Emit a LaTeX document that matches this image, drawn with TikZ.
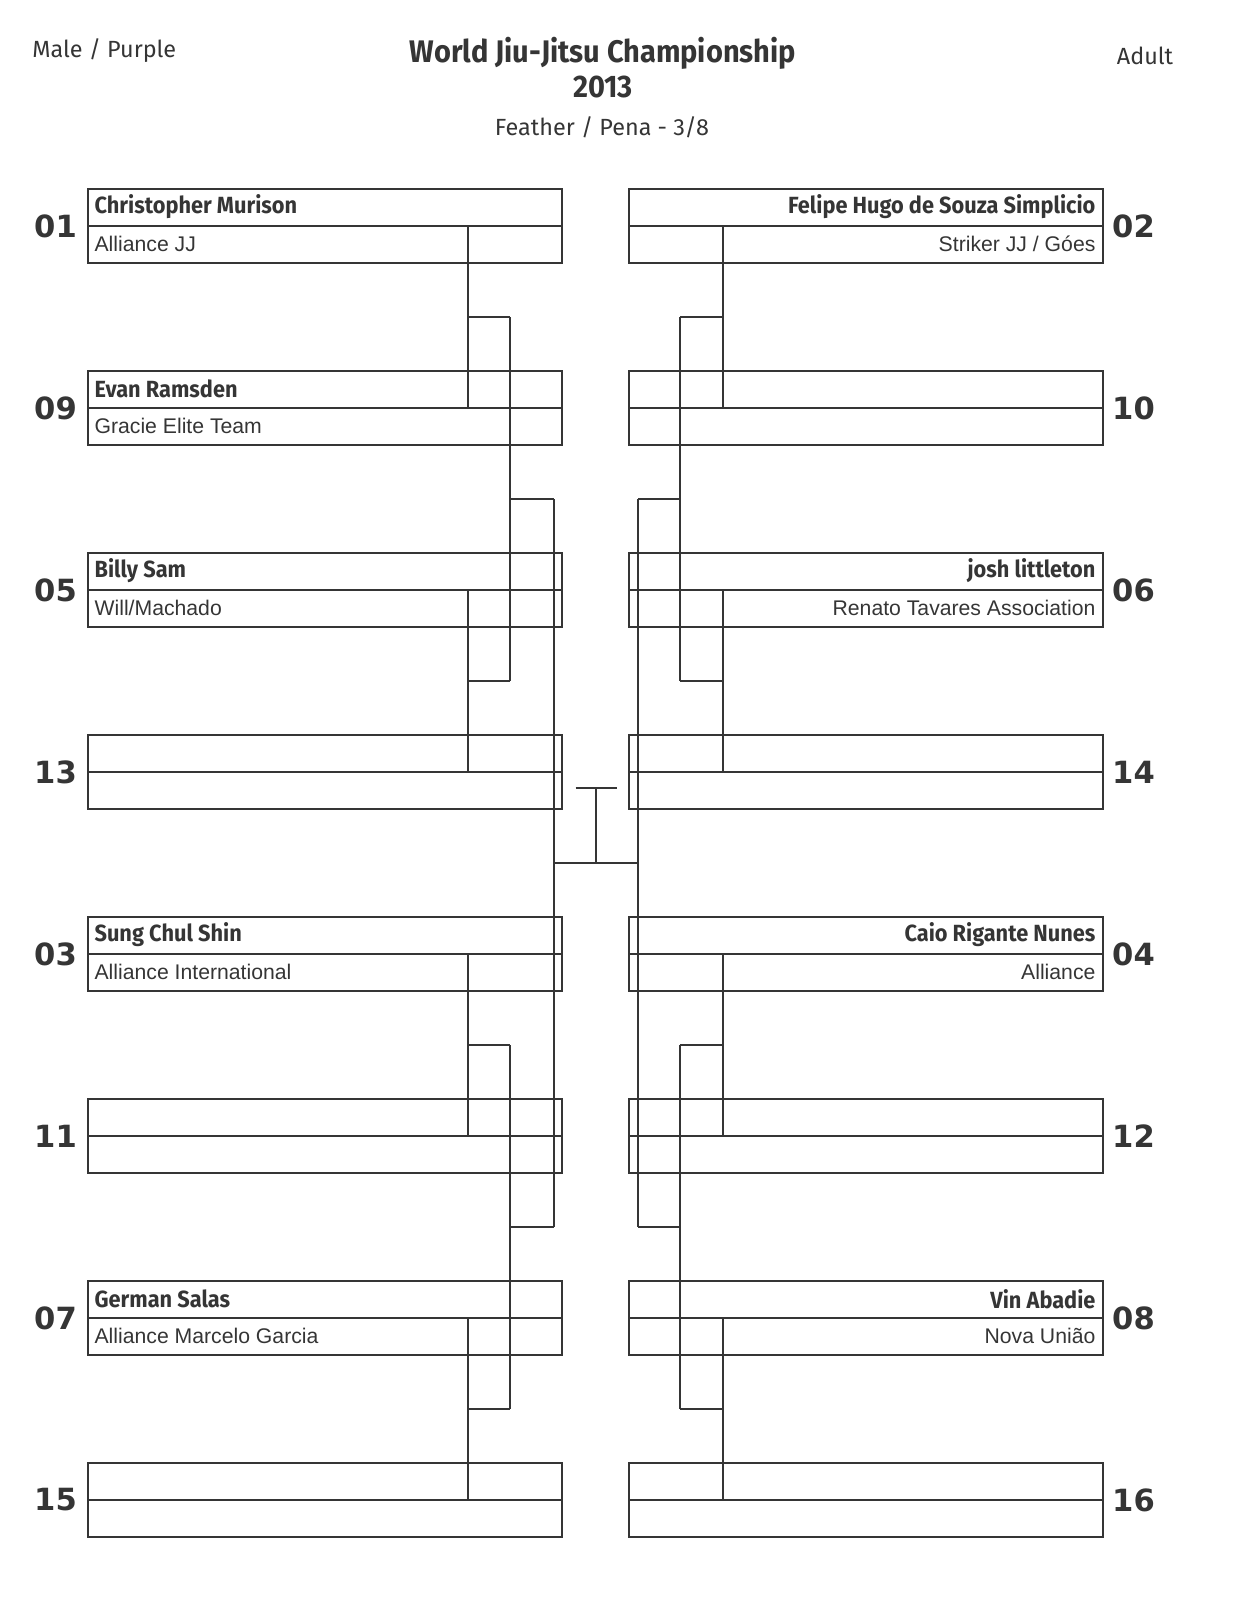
\documentclass[tikz,border=0pt]{standalone}
\usepackage{fontspec}
\setmainfont{Liberation Sans}
\newfontfamily\titre[FakeStretch=0.93]{Fira Sans}
\newfontfamily\entete{Fira Sans}
\newfontfamily\chiffres{DejaVu Sans}
\definecolor{encre}{HTML}{353535}
\tikzset{
  trait/.style={line width=0.8pt, draw=encre},
  boite/.style={trait, rectangle, minimum width=237pt, minimum height=37pt, inner sep=0pt},
  nom/.style={font=\titre\bfseries\fontsize{11.7}{13}\selectfont, text=encre, inner sep=0pt},
  club/.style={font=\fontsize{10.6}{12}\selectfont, text=encre, inner sep=0pt},
  numero/.style={font=\chiffres\bfseries\fontsize{15.3}{18}\selectfont, text=encre, inner sep=0pt},
  petit/.style={font=\entete\fontsize{11.7}{13}\selectfont, text=encre, inner sep=0pt},
  grand/.style={font=\titre\bfseries\fontsize{15.6}{18}\selectfont, text=encre, inner sep=0pt},
}
\begin{document}
\begin{tikzpicture}[x=0.5pt,y=-0.5pt]
\useasboundingbox (0,0) rectangle (1236,1600);

% En-tete
\node[petit, anchor=west] (cat) at (32,51) {Male / Purple};
\node[grand] (titre) at (603,53) {World Jiu-Jitsu Championship};
\node[grand] (annee) at (603,87) {2013};
\node[petit] (poids) at (602,127) {Feather / Pena - 3/8};
\node[petit] (age) at (1145,56) {Adult};

% Boites de gauche
\foreach \num/\rang/\nomj/\clubj in {01/0/{Christopher Murison}/{Alliance JJ},
    09/1/{Evan Ramsden}/{Gracie Elite Team}, 05/2/{Billy Sam}/{Will/Machado},
    13/3/{}/{}, 03/4/{Sung Chul Shin}/{Alliance International}, 11/5/{}/{},
    07/6/{German Salas}/{Alliance Marcelo Garcia}, 15/7/{}/{}}{
  \node[boite] (b\num) at (325,{226+182*\rang}) {};
  \draw[trait] (b\num.west) -- (b\num.east);
  \node[nom, anchor=west] (n\num) at ([xshift=3.5pt,yshift=9.5pt]b\num.west) {\nomj};
  \node[club, anchor=west] (c\num) at ([xshift=3.5pt,yshift=-9pt]b\num.west) {\clubj};
  \node[numero, anchor=east] (r\num) at ([xshift=-5pt]b\num.west) {\num};
}

% Boites de droite
\foreach \num/\rang/\nomj/\clubj in {02/0/{Felipe Hugo de Souza Simplicio}/{Striker JJ / Góes},
    10/1/{}/{}, 06/2/{josh littleton}/{Renato Tavares Association},
    14/3/{}/{}, 04/4/{Caio Rigante Nunes}/{Alliance}, 12/5/{}/{},
    08/6/{Vin Abadie}/{Nova União}, 16/7/{}/{}}{
  \node[boite] (b\num) at (866,{226+182*\rang}) {};
  \draw[trait] (b\num.west) -- (b\num.east);
  \node[nom, anchor=east] (n\num) at ([xshift=-4pt,yshift=9.5pt]b\num.east) {\nomj};
  \node[club, anchor=east] (c\num) at ([xshift=-4pt,yshift=-9pt]b\num.east) {\clubj};
  \node[numero, anchor=west] (r\num) at ([xshift=4pt]b\num.east) {\num};
}

% Colonnes et jonctions
\coordinate (L1) at (468,0);
\coordinate (R1) at (723,0);
\coordinate (g1) at (510,317); \coordinate (g2) at (510,681);
\coordinate (g3) at (510,1045); \coordinate (g4) at (510,1409);
\coordinate (d1) at (680,317); \coordinate (d2) at (680,681);
\coordinate (d3) at (680,1045); \coordinate (d4) at (680,1409);
\coordinate (h1) at (554,499); \coordinate (h2) at (554,1227);
\coordinate (e1) at (638,499); \coordinate (e2) at (638,1227);
\coordinate (fin) at (596,863);
\coordinate (tete) at (596,788);

% Premier tour
\foreach \a/\b/\g in {01/09/g1, 05/13/g2, 03/11/g3, 07/15/g4}
  \draw[trait] (b\a.center -| L1) -- (b\b.center -| L1) (\g -| L1) -- (\g);
\foreach \a/\b/\g in {02/10/d1, 06/14/d2, 04/12/d3, 08/16/d4}
  \draw[trait] (b\a.center -| R1) -- (b\b.center -| R1) (\g -| R1) -- (\g);

% Quarts et demies
\draw[trait] (g1) -- (g2) (h1 -| g1) -- (h1);
\draw[trait] (g3) -- (g4) (h2 -| g3) -- (h2);
\draw[trait] (d1) -- (d2) (e1 -| d1) -- (e1);
\draw[trait] (d3) -- (d4) (e2 -| d3) -- (e2);
\draw[trait] (h1) -- (h2) (e1) -- (e2);
\draw[trait] (fin -| h1) -- (fin -| e1);

% Finale
\draw[trait] (fin) -- (tete);
\draw[trait] ([xshift=-10.25pt]tete) -- ([xshift=10.25pt]tete);
\end{tikzpicture}
\end{document}
